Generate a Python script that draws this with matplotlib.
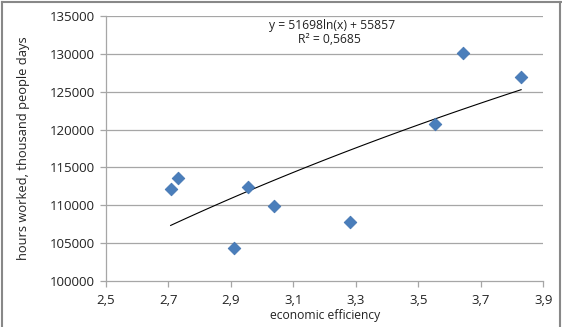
import numpy as np
import matplotlib
matplotlib.use("Agg")
import matplotlib.pyplot as plt
from matplotlib.lines import Line2D
from matplotlib.ticker import FuncFormatter

efficiency = [2.707, 2.731, 2.909, 2.956, 3.039, 3.281, 3.552, 3.643, 3.829]
hours = [112150, 113560, 104360, 112420, 109950, 107750, 120750, 130100, 126900]
trend_a = 51698
trend_b = 55857
equation_text = "y = 51698ln(x) + 55857"
r2_text = "R² = 0,5685"
x_ticks = [2.5, 2.7, 2.9, 3.1, 3.3, 3.5, 3.7, 3.9]
y_ticks = [100000, 105000, 110000, 115000, 120000, 125000, 130000, 135000]

plt.rcParams['font.family'] = ['Open Sans', 'DejaVu Sans']

fig = plt.figure(figsize=(5.62, 3.27), dpi=100)
ax = fig.add_axes([106/562, 1 - 281/327, (543.3 - 106)/562, (281 - 16)/327])

ax.set_xlim(2.5, 3.9)
ax.set_ylim(100000, 135000)
ax.set_xticks(x_ticks)
ax.set_yticks(y_ticks)
ax.xaxis.set_major_formatter(FuncFormatter(lambda v, p: f"{v:.1f}".replace('.', ',')))
ax.yaxis.set_major_formatter(FuncFormatter(lambda v, p: f"{int(v)}"))

for y in y_ticks[1:]:
    ax.axhline(y, color='#a6a6a6', lw=0.9, zorder=0)

for s in ['top', 'right']:
    ax.spines[s].set_visible(False)
for s in ['left', 'bottom']:
    ax.spines[s].set_color('#a6a6a6')
    ax.spines[s].set_linewidth(0.9)

ax.tick_params(axis='both', colors='#a6a6a6', labelcolor='#222222', labelsize=9.5,
               length=4, width=0.9)
ax.tick_params(axis='x', pad=5)
ax.tick_params(axis='y', pad=4)

ax.scatter(efficiency, hours, marker='D', s=42, color='#4a7ebb', edgecolors='#3f72b0',
           linewidths=0.5, zorder=3)

xt = np.linspace(min(efficiency), max(efficiency), 100)
ax.plot(xt, trend_a * np.log(xt) + trend_b, color='black', lw=0.8, zorder=2)

ax.text(3.223, 133700, equation_text, ha='center', va='center', fontsize=8.7, color='#222222')
ax.text(3.215, 131900, r2_text, ha='center', va='center', fontsize=8.7, color='#222222')

ax.set_xlabel("economic efficiency", fontsize=8.7, color='#222222', labelpad=2)
ax.set_ylabel("hours worked, thousand people days", fontsize=9.3, color='#222222', labelpad=14)

# chart border
for coords in [([1.5/562, 1.5/562], [0, 1 - 1.5/327]),
               ([1.5/562, 1 - 1.5/562], [1 - 1.5/327, 1 - 1.5/327]),
               ([1 - 2.5/562, 1 - 2.5/562], [0, 1 - 1.5/327])]:
    fig.add_artist(Line2D(coords[0], coords[1], color='#888888', lw=1.5,
                          transform=fig.transFigure))

fig.savefig("out.png", dpi=100)
